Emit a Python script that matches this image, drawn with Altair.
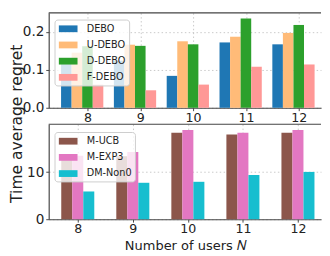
import altair as alt
import pandas as pd

# ---- data ----
N = [8, 9, 10, 11, 12]

top_series = ["DEBO", "U-DEBO", "D-DEBO", "F-DEBO"]
top_colors = ["#1f77b4", "#ffbb78", "#2ca02c", "#ff9896"]
debo = [0.115, 0.124, 0.084, 0.172, 0.167]
u_debo = [0.145, 0.166, 0.175, 0.187, 0.197]
d_debo = [0.162, 0.163, 0.167, 0.235, 0.218]
f_debo = [0.061, 0.046, 0.061, 0.108, 0.114]
top_offsets = [-2, -1, 0, 1]

bot_series = ["M-UCB", "M-EXP3", "DM-Non0"]
bot_colors = ["#8c564b", "#e377c2", "#17becf"]
m_ucb = [13.2, 13.4, 18.4, 18.0, 18.4]
m_exp3 = [13.5, 14.3, 19.0, 18.4, 19.0]
dm_non0 = [5.9, 7.75, 7.96, 9.4, 10.06]
bot_offsets = [-1, 0, 1]

top_yticks = [0.0, 0.1, 0.2]
bot_yticks = [0, 10]

BAR_W = 0.2
W = 281
H = 98
FONT = "DejaVu Sans"


def make_df(series, values, offsets):
    rows = []
    for s, vals, off in zip(series, values, offsets):
        for n, v in zip(N, vals):
            rows.append({"N": n, "series": s, "value": v, "off": off})
    return pd.DataFrame(rows)


top_df = make_df(top_series, [debo, u_debo, d_debo, f_debo], top_offsets)
bot_df = make_df(bot_series, [m_ucb, m_exp3, dm_non0], bot_offsets)


def legend(ly):
    return alt.Legend(
        title=None, orient="none", legendX=6, legendY=ly,
        fillColor="rgba(255,255,255,0.8)", strokeColor="#cccccc",
        cornerRadius=3, padding=3, rowPadding=4.7,
        symbolType="M-1.6,-0.58L1.6,-0.58L1.6,0.58L-1.6,0.58Z",
        symbolSize=145, symbolOffset=4.6, symbolStrokeWidth=0,
        symbolOpacity=1, labelOffset=12.7,
        labelFont=FONT, labelFontSize=10, labelColor="#222222",
    )


def panel(df, series, colors, xdom, ydom, yticks, yfmt, ly, xtitle, ytitle):
    base = alt.Chart(df).transform_calculate(
        x0=f"datum.N + datum.off*{BAR_W} - {BAR_W / 2}",
        x1=f"datum.N + datum.off*{BAR_W} + {BAR_W / 2}",
    )
    xaxis = alt.Axis(values=N, format="d", grid=True, title=xtitle,
                     titlePadding=3, labelPadding=1, labelFontSize=13)
    if ytitle:
        yaxis = alt.Axis(values=yticks, format=yfmt, grid=True, title=ytitle,
                         titleX=-28, titleY=114, titleAngle=270,
                         titleAlign="center", titleBaseline="alphabetic",
                         titleFontSize=16, labelPadding=2, labelFontSize=14)
    else:
        yaxis = alt.Axis(values=yticks, format=yfmt, grid=True, title=None,
                         labelPadding=2, labelFontSize=14)
    bars = base.mark_bar().encode(
        x=alt.X("x0:Q", scale=alt.Scale(domain=xdom, nice=False, zero=False),
                axis=xaxis),
        x2="x1:Q",
        y=alt.Y("value:Q", scale=alt.Scale(domain=ydom, nice=False), axis=yaxis),
        y2=alt.datum(0),
        color=alt.Color("series:N", scale=alt.Scale(domain=series, range=colors),
                        legend=legend(ly), sort=series),
    )
    border = alt.Chart(pd.DataFrame({"k": [0]})).mark_rule(
        color="#444444", strokeWidth=1.2
    ).encode(x=alt.value(0), x2=alt.value(W), y=alt.value(0))
    return alt.layer(bars, border).properties(width=W, height=H)


top = panel(top_df, top_series, top_colors, [7.266, 7.266 + W / 54.5], [0, 0.25],
            top_yticks, ".1f", 7, None, "Time average regret")
bot = panel(bot_df, bot_series, bot_colors, [7.472, 7.472 + W / 56.8], [0, 20.2],
            bot_yticks, "d", 8, "Number of users 𝑁", None)

chart = alt.vconcat(top, bot, spacing=17, bounds="flush").resolve_scale(
    color="independent", x="independent", y="independent"
).resolve_legend(color="independent").properties(
    padding={"left": 0, "top": 0, "right": 0, "bottom": 0}
).configure_view(stroke=None).configure_axis(
    domainColor="#444444", domainWidth=1.2, tickColor="#444444", tickSize=3,
    tickWidth=1, labelFont=FONT, labelFontSize=13, labelColor="#222222",
    gridColor="#bbbbbb", gridDash=[1.5, 2.5], gridWidth=0.8, zindex=1,
    titleFont=FONT, titleFontSize=13.4, titleFontWeight="normal",
    titleColor="#222222",
)

chart.save("out.html", embed_options={"renderer": "svg", "actions": False})
